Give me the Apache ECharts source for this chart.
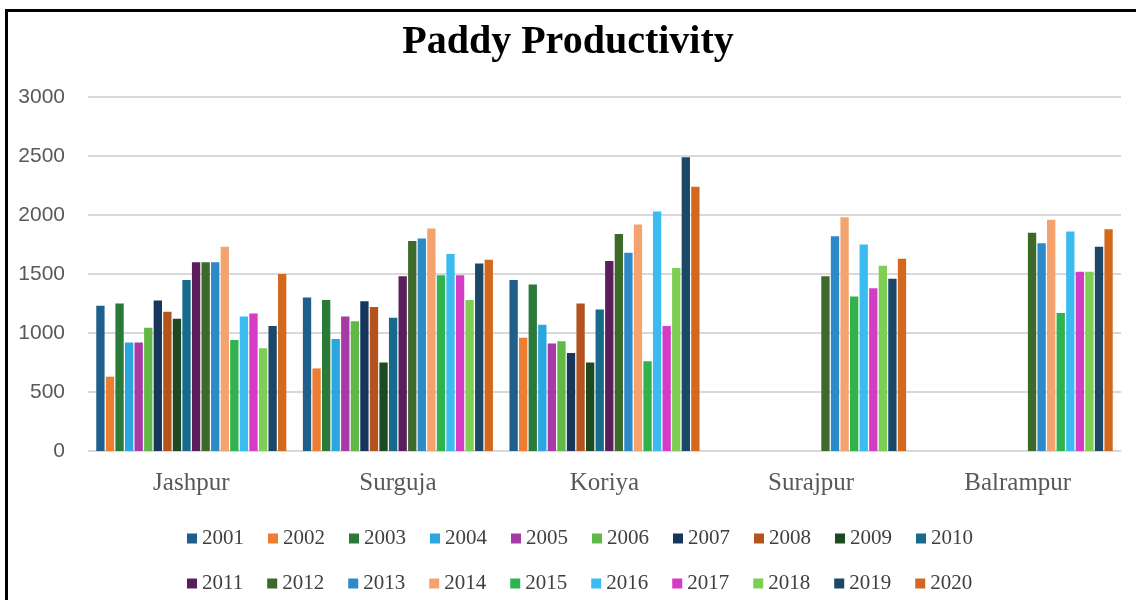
<!DOCTYPE html>
<html>
<head>
<meta charset="utf-8">
<script src="https://cdn.jsdelivr.net/npm/echarts@6/dist/echarts.min.js"></script>
<style>
  html, body { margin: 0; padding: 0; background: #fff; }
  #chart { position: absolute; left: 0; top: 0; width: 1136px; height: 600px; }
  #frame { position: absolute; left: 5px; top: 9px; right: 0; bottom: 0;
           border-top: 3px solid #000; border-left: 3px solid #000; pointer-events: none; }
</style>
</head>
<body>
<div id="chart"></div>
<div id="frame"></div>
<script>
// districts on the x axis
var districts = ['Jashpur', 'Surguja', 'Koriya', 'Surajpur', 'Balrampur'];
var years = ['2001', '2002', '2003', '2004', '2005', '2006', '2007', '2008', '2009', '2010',
             '2011', '2012', '2013', '2014', '2015', '2016', '2017', '2018', '2019', '2020'];

// productivity per district, one value per year (null = no data)
var jashpur   = [1230, 630, 1250, 920, 920, 1045, 1275, 1180, 1120, 1450,
                 1600, 1600, 1600, 1730, 940, 1140, 1165, 870, 1060, 1500];
var surguja   = [1300, 700, 1280, 950, 1140, 1100, 1270, 1220, 750, 1130,
                 1480, 1780, 1800, 1885, 1490, 1670, 1490, 1280, 1590, 1620];
var koriya    = [1450, 960, 1410, 1070, 910, 930, 830, 1250, 750, 1200,
                 1610, 1840, 1680, 1920, 760, 2030, 1060, 1550, 2490, 2240];
var surajpur  = [null, null, null, null, null, null, null, null, null, null,
                 null, 1480, 1820, 1980, 1310, 1750, 1380, 1570, 1460, 1630];
var balrampur = [null, null, null, null, null, null, null, null, null, null,
                 null, 1850, 1760, 1960, 1170, 1860, 1520, 1520, 1730, 1880];

var yearColors = ['#1f5f8b', '#ed7d31', '#2b7a3a', '#2aa7e0', '#a63aa6',
                  '#62b846', '#17365d', '#b5531f', '#1d4a22', '#176a8c',
                  '#5a1e5c', '#3d6a2a', '#2c8ac8', '#f4a36e', '#2fb34c',
                  '#3bbcf0', '#d53cc6', '#7ccf52', '#1b4869', '#d2691e'];

var byDistrict = [jashpur, surguja, koriya, surajpur, balrampur];

var series = years.map(function (y, i) {
    return {
        name: y,
        type: 'bar',
        barGap: '15%',
        barCategoryGap: '8%',
        itemStyle: { color: yearColors[i] },
        data: byDistrict.map(function (d) { return d[i]; })
    };
});

var chart = echarts.init(document.getElementById('chart'));
chart.setOption({
    animation: false,
    color: yearColors,
    title: {
        text: 'Paddy Productivity',
        left: 'center',
        top: 18,
        textStyle: {
            fontFamily: 'Liberation Serif',
            fontSize: 40,
            fontWeight: 'bold',
            color: '#000'
        }
    },
    grid: {
        left: 88,
        right: 15,
        top: 97,
        bottom: 149,
        containLabel: false
    },
    legend: {
        data: years,
        left: 182,
        top: 523,
        width: 800,
        itemWidth: 10,
        itemHeight: 10,
        itemGap: 24,
        icon: 'rect',
        textStyle: {
            fontFamily: 'Liberation Serif',
            fontSize: 21,
            color: '#404040'
        }
    },
    xAxis: {
        type: 'category',
        data: districts,
        axisLine: { lineStyle: { color: '#d9d9d9', width: 1 } },
        axisTick: { show: false },
        axisLabel: {
            margin: 20,
            fontFamily: 'Liberation Serif',
            fontSize: 25,
            color: '#595959'
        }
    },
    yAxis: {
        type: 'value',
        min: 0,
        max: 3000,
        interval: 500,
        axisLine: { show: false },
        axisTick: { show: false },
        splitLine: { lineStyle: { color: '#d9d9d9', width: 2 } },
        axisLabel: {
            margin: 23,
            fontFamily: 'Liberation Sans',
            fontSize: 21,
            color: '#595959',
            formatter: function (v) { return String(v); }
        }
    },
    series: series
});
</script>
</body>
</html>
